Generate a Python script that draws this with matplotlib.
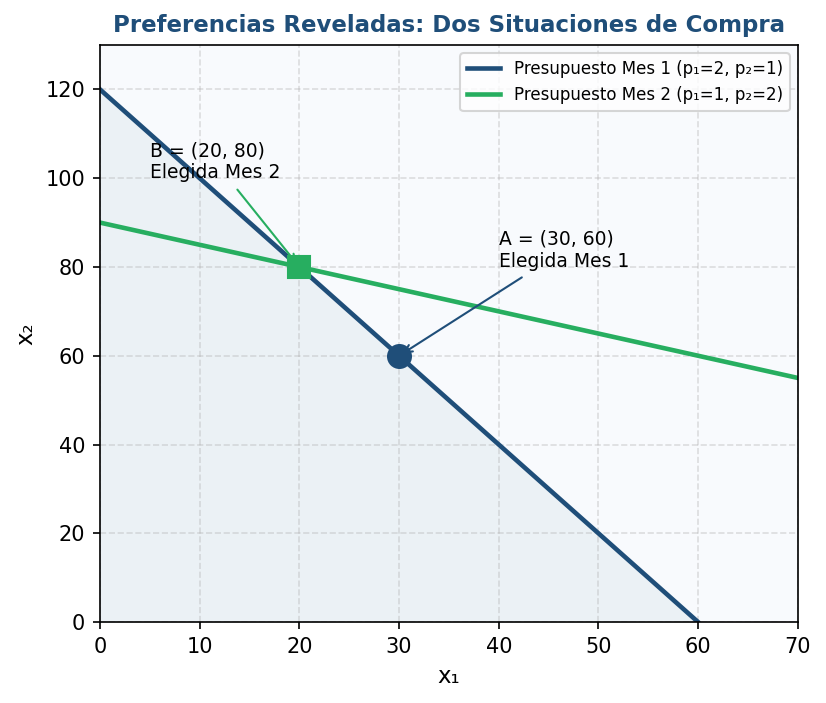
import numpy as np
import matplotlib
matplotlib.use('Agg')
import matplotlib.pyplot as plt

# ---- data ----
p1_mes1, p2_mes1 = 2, 1
p1_mes2, p2_mes2 = 1, 2
ingreso_mes1 = 120
ingreso_mes2 = 180
x1_max = 70
punto_a = (30, 60)
punto_b = (20, 80)

BLUE = '#1f4e79'
GREEN = '#27ae60'

x1 = np.linspace(0, x1_max, 300)
x1_m1 = x1[x1 <= ingreso_mes1 / p1_mes1]
linea_mes1 = (ingreso_mes1 - p1_mes1 * x1_m1) / p2_mes1
linea_mes2 = (ingreso_mes2 - p1_mes2 * x1) / p2_mes2

fig, ax = plt.subplots(figsize=(826 / 150, 703 / 150), dpi=150)
ax.set_facecolor('#f8fafd')

ax.fill_between(x1_m1, 0, linea_mes1, color='#e3ebf0', alpha=0.6, lw=0)

ax.plot(x1_m1, linea_mes1, color=BLUE, lw=2.2,
        label='Presupuesto Mes 1 (p₁=2, p₂=1)')
ax.plot(x1, linea_mes2, color=GREEN, lw=2.2,
        label='Presupuesto Mes 2 (p₁=1, p₂=2)')

ax.plot(*punto_a, 'o', color=BLUE, ms=11, zorder=5)
ax.plot(*punto_b, 's', color=GREEN, ms=11, zorder=5)

ax.annotate(f'A = ({punto_a[0]}, {punto_a[1]})\nElegida Mes 1', xy=punto_a, xytext=(40, 80),
            fontsize=9, arrowprops=dict(arrowstyle='->', color=BLUE, lw=1.0))
ax.annotate(f'B = ({punto_b[0]}, {punto_b[1]})\nElegida Mes 2', xy=punto_b, xytext=(5, 100),
            fontsize=9, arrowprops=dict(arrowstyle='->', color=GREEN, lw=1.0))

ax.set_xlim(0, 70)
ax.set_ylim(0, 130)
ax.set_xlabel('x₁', fontsize=11)
ax.set_ylabel('x₂', fontsize=11)
ax.set_title('Preferencias Reveladas: Dos Situaciones de Compra', fontsize=11,
             fontweight='bold', color=BLUE)
ax.grid(True, linestyle='--', alpha=0.4)
ax.legend(loc='upper right', fontsize=8)

fig.subplots_adjust(left=0.121, right=0.966, top=0.936, bottom=0.115)
plt.savefig('out.png', dpi=150)
